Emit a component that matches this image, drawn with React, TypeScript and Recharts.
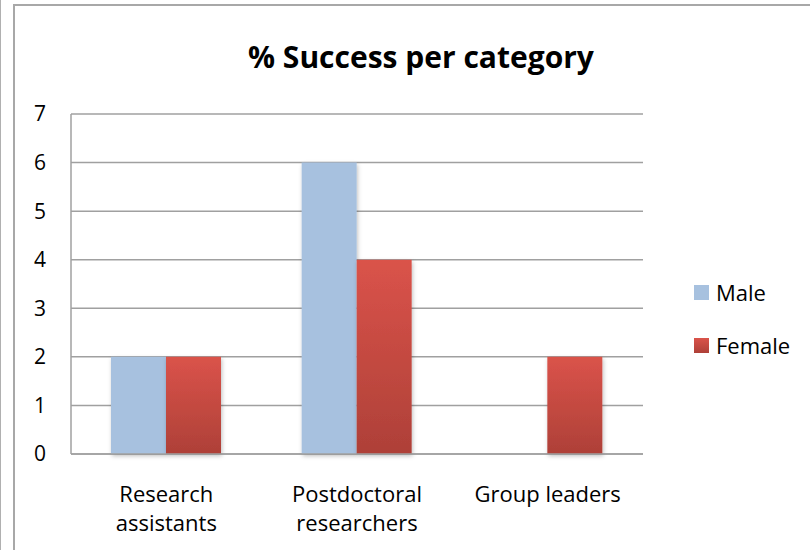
import { BarChart, Bar, XAxis, YAxis, CartesianGrid } from 'recharts';

const categories = ['Research assistants', 'Postdoctoral researchers', 'Group leaders'];
const male = [2, 6, 0];
const female = [2, 4, 2];
const yTicks = [0, 1, 2, 3, 4, 5, 6, 7];
const seriesNames = ['Male', 'Female'];

const data = categories.map((c, i) => ({ name: c, male: male[i], female: female[i] }));

const font = '"Open Sans", Lato, sans-serif';

// wraps long category names onto two lines, like the original
function CategoryTick(props: any) {
    const { x, y, payload } = props;
    const label: string = payload.value;
    const lines = label.length > 14 ? label.split(' ') : [label];
    return (
        <text x={x} y={y} textAnchor="middle" fontFamily={font} fontSize={22} fill="#000">
            {lines.map((l, i) => (
                <tspan key={i} x={x} dy={i === 0 ? 40 : 29}>{l}</tspan>
            ))}
        </text>
    );
}

export default function App() {
    return (
        <div style={{ position: 'relative', width: 810, height: 550, background: '#fff', overflow: 'hidden' }}>
            <style>{'body{margin:0}'}</style>
            {/* outer frame */}
            <div style={{ position: 'absolute', left: 0, top: 0, width: 1, height: 550, background: '#b0b0b0' }} />
            <div style={{ position: 'absolute', left: 13, top: 4, width: 797, height: 546, borderLeft: '2px solid #a8a8a8', borderTop: '2px solid #a8a8a8' }} />
            <div style={{ position: 'absolute', left: 0, top: 37, width: 842, textAlign: 'center', fontFamily: font, fontWeight: 700, fontSize: 30, lineHeight: '40px' }}>
                % Success per category
            </div>
            <BarChart
                width={810}
                height={550}
                data={data}
                margin={{ top: 114, right: 167, bottom: 0, left: 0 }}
                barCategoryGap={40}
                barGap={0}
                style={{ position: 'absolute', left: 0, top: 0 }}
            >
                <defs>
                    <linearGradient id="redGrad" x1="0" y1="0" x2="0" y2="1">
                        <stop offset="0%" stopColor="#da534a" />
                        <stop offset="100%" stopColor="#ae4038" />
                    </linearGradient>
                    <filter id="shadow" x="-20%" y="-5%" width="140%" height="112%">
                        <feDropShadow dx="1" dy="2" stdDeviation="2" floodColor="#000" floodOpacity="0.25" />
                    </filter>
                </defs>
                <CartesianGrid vertical={false} stroke="#a0a0a0" strokeWidth={1.5} />
                <XAxis
                    dataKey="name"
                    height={96}
                    tick={<CategoryTick />}
                    tickLine={false}
                    axisLine={{ stroke: '#a0a0a0', strokeWidth: 1.5 }}
                    interval={0}
                />
                <YAxis
                    width={71}
                    domain={[0, 7]}
                    ticks={yTicks}
                    tickLine={false}
                    tickSize={0}
                    tickMargin={25}
                    axisLine={{ stroke: '#a0a0a0', strokeWidth: 1.5 }}
                    tick={{ fontFamily: font, fontSize: 21, fill: '#000' }}
                />
                <Bar dataKey="male" name={seriesNames[0]} fill="#a7c1df" filter="url(#shadow)" isAnimationActive={false} />
                <Bar dataKey="female" name={seriesNames[1]} fill="url(#redGrad)" filter="url(#shadow)" isAnimationActive={false} />
            </BarChart>
            {/* legend */}
            {seriesNames.map((s, i) => (
                <div key={s} style={{ position: 'absolute', left: 694, top: 277 + i * 53, display: 'flex', alignItems: 'center', fontFamily: font, fontSize: 22 }}>
                    <div style={{ width: 15, height: 15, background: i === 0 ? '#a7c1df' : 'linear-gradient(#da534a, #ae4038)', marginRight: 7 }} />
                    <span>{s}</span>
                </div>
            ))}
        </div>
    );
}
